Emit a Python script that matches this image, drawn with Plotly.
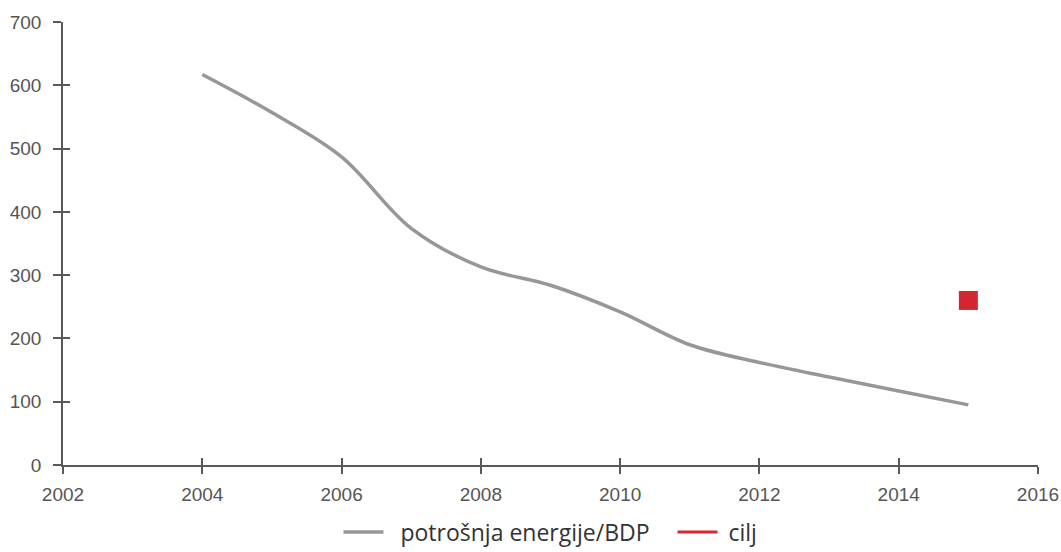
import plotly.graph_objects as go

years = [2004, 2005, 2006, 2007, 2008, 2009, 2010, 2011, 2012, 2013, 2014, 2015]
energy_per_gdp = [617, 557, 487, 374, 313, 284, 242, 190, 162, 139, 117, 95]

target_year = [2015]
target_value = [260]

x_ticks = [2002, 2004, 2006, 2008, 2010, 2012, 2014, 2016]
y_ticks = [0, 100, 200, 300, 400, 500, 600, 700]

axis_col = '#595959'
tick_font = dict(family='Liberation Sans, Arial, sans-serif', size=19, color='#555555')

fig = go.Figure()

fig.add_trace(go.Scatter(
    x=years, y=energy_per_gdp,
    mode='lines',
    line=dict(color='#97979a', width=3.5, shape='spline', smoothing=1),
    name='\u00a0\u00a0potrošnja energije/BDP\u00a0\u00a0\u00a0'
))

fig.add_trace(go.Scatter(
    x=target_year, y=target_value,
    mode='markers',
    marker=dict(symbol='square', size=19, color='#d42631'),
    name='cilj', legendgroup='cilj', showlegend=False
))

# legend entry for the target is shown as a line
fig.add_trace(go.Scatter(
    x=[None], y=[None],
    mode='lines',
    line=dict(color='#e0242c', width=3),
    name='\u00a0cilj', legendgroup='cilj'
))

# second axis pair only for ticks pointing inward, so ticks cross the axis line
fig.add_trace(go.Scatter(x=[None], y=[None], xaxis='x2', yaxis='y2',
                         showlegend=False, hoverinfo='skip'))

fig.update_layout(
    width=1061, height=552,
    paper_bgcolor='white', plot_bgcolor='white',
    margin=dict(l=63, r=23, t=22, b=87),
    showlegend=True,
    legend=dict(orientation='h', x=0.5, xanchor='center',
                yref='container', y=0.036, yanchor='middle',
                font=dict(family='Open Sans, Noto Sans, sans-serif', size=23, color='#333333'),
                itemwidth=40, tracegroupgap=0),
    xaxis=dict(range=[2002, 2016], tickvals=x_ticks, showgrid=False, zeroline=False,
               showline=True, linecolor=axis_col, linewidth=1.5,
               ticks='outside', ticklen=7, tickwidth=1.5, tickcolor=axis_col,
               tickfont=tick_font, ticklabelstandoff=4, ticklabeloverflow='allow',
               automargin=False),
    yaxis=dict(range=[0, 700], tickvals=y_ticks, showgrid=False, zeroline=False,
               showline=True, linecolor=axis_col, linewidth=1.5,
               ticks='outside', ticklen=8, tickwidth=1.5, tickcolor=axis_col,
               tickfont=tick_font, ticklabelstandoff=8, ticklabeloverflow='allow',
               automargin=False),
    xaxis2=dict(range=[2002, 2016], tickvals=x_ticks, overlaying='x', anchor='y2',
                showgrid=False, zeroline=False, showline=False, showticklabels=False,
                ticks='inside', ticklen=7, tickwidth=1.5, tickcolor=axis_col),
    yaxis2=dict(range=[0, 700], tickvals=y_ticks, overlaying='y', anchor='x2',
                showgrid=False, zeroline=False, showline=False, showticklabels=False,
                ticks='inside', ticklen=7, tickwidth=1.5, tickcolor=axis_col),
)

fig.write_html("out.html", config={'displayModeBar': False},
               post_script="document.body.style.margin='0';")
